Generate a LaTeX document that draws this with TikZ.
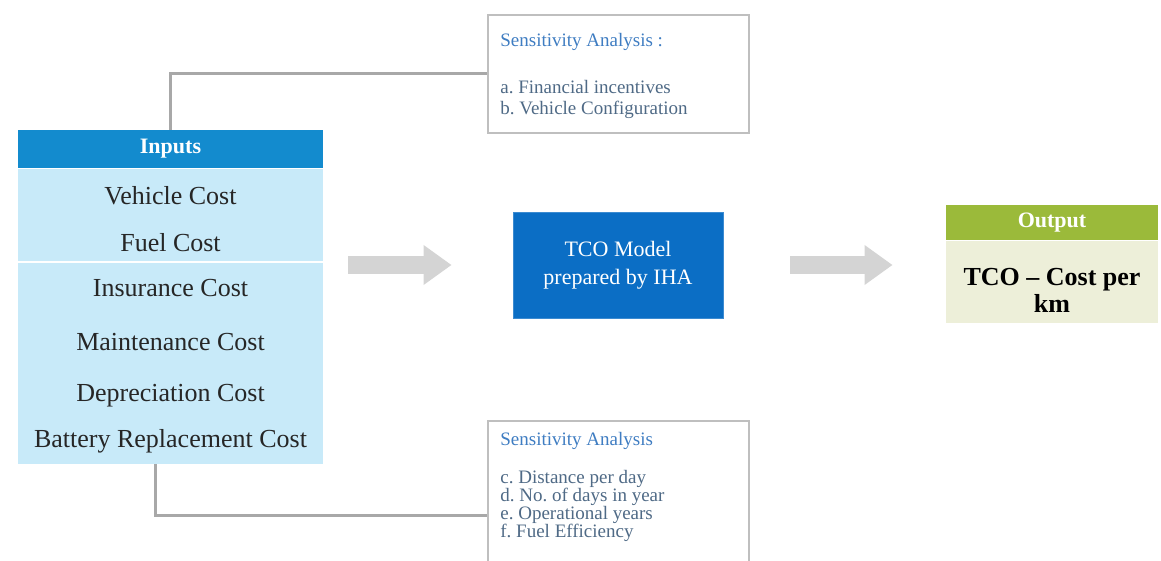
\documentclass[tikz,border=0pt]{standalone}
\usepackage{fontspec}
\setmainfont{Liberation Serif}
\usepackage{tikz}
\usetikzlibrary{arrows.meta, positioning}
\frenchspacing

\definecolor{inblue}{HTML}{138BCE}
\definecolor{inlight}{HTML}{C8EAF9}
\definecolor{tcoblue}{HTML}{0B6EC5}
\definecolor{outgreen}{HTML}{9BBA3A}
\definecolor{outlight}{HTML}{EDEFD9}
\definecolor{satitle}{HTML}{3F7DC2}
\definecolor{saitem}{HTML}{4F6A86}
\definecolor{linegray}{HTML}{A8A8A8}
\definecolor{arrowgray}{HTML}{D4D4D4}

\begin{document}
\begin{tikzpicture}[x=0.5pt, y=-0.5pt,
  head/.style={rectangle, text=white, font=\fontsize{11}{12}\selectfont\bfseries, minimum width=152.5pt, minimum height=19pt, inner sep=0pt},
  item/.style={font=\fontsize{13}{14}\selectfont, text=black!85, inner sep=0pt},
  sabox/.style={rectangle, draw=black!25, line width=0.8pt, fill=white, minimum width=130.5pt, inner sep=0pt, anchor=north west},
  satext/.style={font=\fontsize{9.5}{9}\selectfont, text=saitem, align=left, anchor=north west, inner sep=0pt},
  conn/.style={draw=linegray, line width=1.5pt},
  bigarrow/.style={draw=arrowgray, line width=9pt, -{Triangle[length=14pt, width=19pt]}}
]
\useasboundingbox (0,0) rectangle (1161,561);

% inputs
\node[head, fill=inblue] (inhead) at (170.5,149) {Inputs};
\node[rectangle, fill=inlight, minimum width=152.5pt, minimum height=147.5pt, inner sep=0pt, below=0pt of inhead] (inlist) {};
\draw[white, line width=0.8pt] (inlist.west |- 0,262) -- (inlist.east |- 0,262);
\node[item] (c1) at (170.5,196) {Vehicle Cost};
\node[item] (c2) at (170.5,243) {Fuel Cost};
\node[item] (c3) at (170.5,288) {Insurance Cost};
\node[item] (c4) at (170.5,342) {Maintenance Cost};
\node[item] (c5) at (170.5,396) {Depreciation Cost};
\node[item] (c6) at (170.5,441) {Battery Replacement Cost};

% sensitivity boxes
\node[sabox, minimum height=59pt] (sa1) at (487,14) {};
\node[satext] (sa1t) at (500,33) {\textcolor{satitle}{Sensitivity Analysis :}\\[14.5pt]a. Financial incentives\\[1.5pt]b. Vehicle Configuration};
\node[sabox, minimum height=95pt] (sa2) at (487,420) {};
\node[satext] (sa2t) at (500,432) {\textcolor{satitle}{Sensitivity Analysis}\\[10pt]c. Distance per day\\d. No. of days in year\\e. Operational years\\f. Fuel Efficiency};

% model and output
\node[rectangle, fill=tcoblue, draw=tcoblue!80!white, minimum width=105pt, minimum height=53pt, align=center, text=white, font=\fontsize{11}{14}\selectfont] (tco) at (618,265) {TCO Model\\prepared by IHA};
\node[head, fill=outgreen, minimum width=106pt, minimum height=17.5pt] (outhead) at (1052,222.5) {Output};
\node[rectangle, fill=outlight, minimum width=106pt, minimum height=41pt, inner sep=0pt, below=0pt of outhead] (outbody) {};
\node[align=center, inner sep=0pt, font=\fontsize{13}{13.5}\selectfont\bfseries] (outtext) at (1052,290) {TCO -- Cost per\\km};

% connectors
\draw[conn] (inhead.north) |- (sa1.west);
\draw[conn] ([xshift=-7.75pt]inlist.south) |- (sa2.west);
\draw[bigarrow, shorten <=12.5pt, shorten >=30.5pt] (inlist.east |- tco) -- (tco.west);
\draw[bigarrow, shorten <=33.5pt, shorten >=26.5pt] (tco.east) -- (tco.east -| outbody.west);
\end{tikzpicture}
\end{document}
